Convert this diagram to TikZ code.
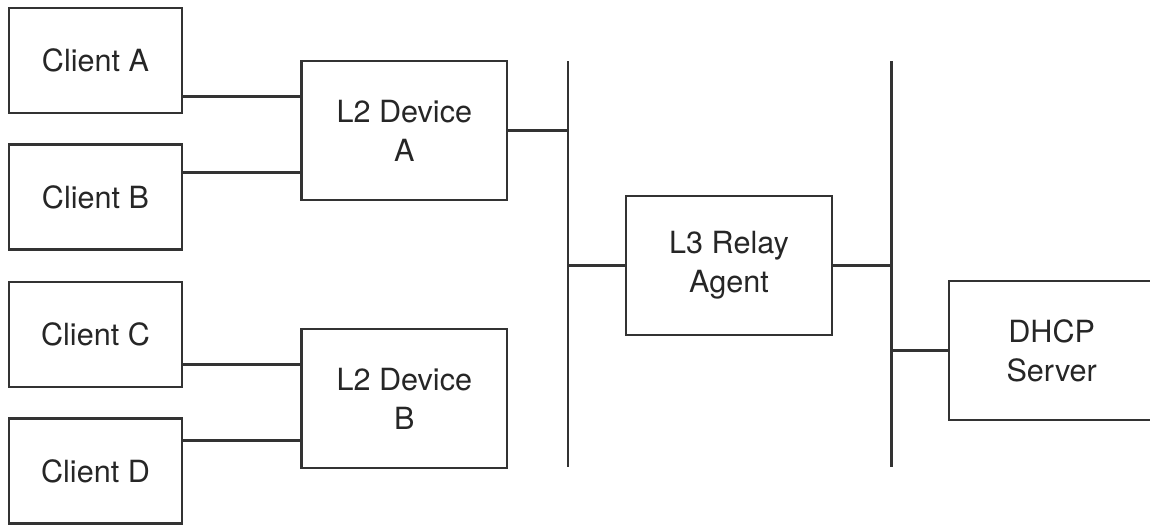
\documentclass[tikz,border=0pt]{standalone}
\usepackage{fontspec}
\setmainfont{TeX Gyre Heros}

\begin{document}
\begin{tikzpicture}[black!80, text=black!85, line width=1.4pt,
    font=\fontsize{17.4}{22.2}\selectfont,
    client/.style={draw, minimum width=3.46cm, minimum height=2.1cm, inner sep=0pt},
    device/.style={draw, align=center, minimum width=4.11cm, minimum height=2.78cm, inner sep=0pt}]
  \useasboundingbox (0,0) rectangle (23,-10.5);
  \node [client] (clienta) at (1.91,-1.21) {Client A};
  \node [client] (clientb) at (1.91,-3.94) {Client B};
  \node [client] (clientc) at (1.91,-6.69) {Client C};
  \node [client] (clientd) at (1.91,-9.42) {Client D};
  \node [device] (l2a) at (8.086,-2.61) {L2 Device\\A};
  \node [device] (l2b) at (8.086,-7.97) {L2 Device\\B};
  \node [device] (relay) at (14.58,-5.31) {L3 Relay\\Agent};
  \node [device] (dhcp) at (21.034,-7.01) {DHCP\\Server};
  % the two LAN segments
  \coordinate (lan1top) at (11.36,-1.22);
  \coordinate (lan1bot) at (11.36,-9.34);
  \coordinate (lan2top) at (17.834,-1.22);
  \coordinate (lan2bot) at (17.834,-9.34);
  \draw (lan1top) -- (lan1bot);
  \draw (lan2top) -- (lan2bot);
  % clients to the L2 devices
  \draw ([yshift=.68cm]l2a.west) -- ([yshift=.68cm]l2a.west -| clienta.east);
  \draw ([yshift=-.84cm]l2a.west) -- ([yshift=-.84cm]l2a.west -| clientb.east);
  \draw ([yshift=.68cm]l2b.west) -- ([yshift=.68cm]l2b.west -| clientc.east);
  \draw ([yshift=-.84cm]l2b.west) -- ([yshift=-.84cm]l2b.west -| clientd.east);
  % onto the segments
  \draw (l2a.east) -- (l2a.east -| lan1top);
  \draw (relay.west) -- (relay.west -| lan1top);
  \draw (relay.east) -- (relay.east -| lan2top);
  \draw (dhcp.west) -- (dhcp.west -| lan2top);
\end{tikzpicture}
\end{document}
